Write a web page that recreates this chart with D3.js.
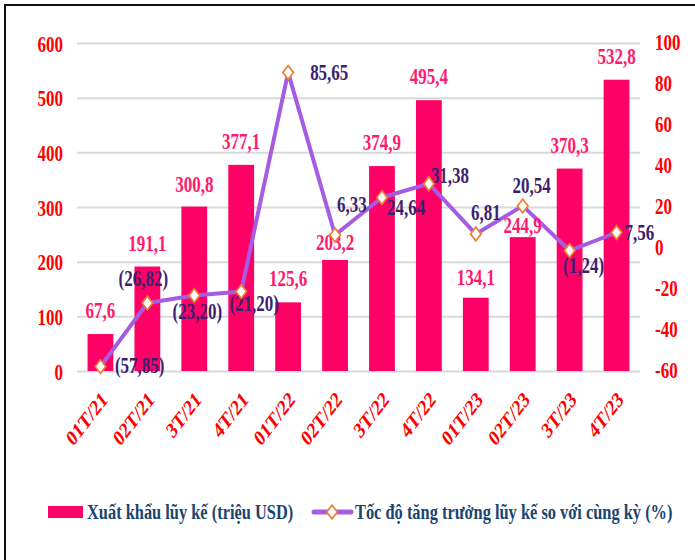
<!DOCTYPE html>
<html>
<head>
<meta charset="utf-8">
<script src="https://cdn.jsdelivr.net/npm/d3@7"></script>
<style>
  html, body { margin: 0; padding: 0; background: #fff; }
  svg { display: block; }
  text { font-family: "Liberation Serif", "Times New Roman", serif; font-weight: bold; }
</style>
</head>
<body>
<svg id="chart" width="695" height="560"></svg>
<script>
// ---- data ----
const categories = ["01T/21","02T/21","3T/21","4T/21","01T/22","02T/22","3T/22","4T/22","01T/23","02T/23","3T/23","4T/23"];
const exportValues = [67.6, 191.1, 300.8, 377.1, 125.6, 203.2, 374.9, 495.4, 134.1, 244.9, 370.3, 532.8];
const growthValues = [-57.85, -26.82, -23.20, -21.20, 85.65, 6.33, 24.64, 31.38, 6.81, 20.54, -1.24, 7.56];
const leftTicks = [0, 100, 200, 300, 400, 500, 600];
const rightTicks = [-60, -40, -20, 0, 20, 40, 60, 80, 100];
const seriesNames = ["Xuất khẩu lũy kế (triệu USD)", "Tốc độ tăng trưởng lũy kế so với cùng kỳ (%)"];

// ---- layout / style (not data) ----
const W = 695, H = 560;
const plot = { left: 77, right: 640, top: 43, bottom: 371 };
const SY = 1.3;            // vertical stretch seen in the reference
const FS = 17;
const barColor = "#FF0066";
const barLabelColor = "#FF1A6E";
const lineColor = "#A55CE0";
const lineLabelColor = "#3D1F6E";
const axisColor = "#FF0000";
const legendColor = "#1B4470";
const barLabelNudge = {2: 14.5, 5: 10, 8: 13, 9: 4}; // baseline distance above bar top (default 16)
const lineLabelPlace = [
  [14.5, 6.5, "start"], [-4, -17, "middle"], [3, 23, "middle"], [13, 19.5, "middle"],
  [22, 7.6, "start"], [2, -23, "start"], [5, 17.5, "start"], [2, -0.7, "start"],
  [10, -14, "middle"], [9, -13, "middle"], [14, 22.5, "middle"], [8, 7.5, "start"]
];

const svg = d3.select("#chart");
svg.append("rect").attr("width", W).attr("height", H).attr("fill", "#fff");

// border (top & left visible)
svg.append("path").attr("d", `M5,${H} L5,5 L${W},5`).attr("fill", "none")
  .attr("stroke", "#111").attr("stroke-width", 2);

const x = d3.scaleBand().domain(categories).range([plot.left, plot.right])
  .paddingInner(0.45).paddingOuter(0.225);
const yL = d3.scaleLinear().domain([0, 600]).range([plot.bottom, plot.top]);
const yR = d3.scaleLinear().domain([-60, 100]).range([plot.bottom, plot.top]);

const fmt1 = v => d3.format(".1f")(v).replace(".", ",");
const fmt2 = v => v < 0 ? "(" + d3.format(".2f")(-v).replace(".", ",") + ")" : d3.format(".2f")(v).replace(".", ",");
const fmtInt = v => String(v);

// gridlines via left axis
const gGrid = svg.append("g").attr("transform", `translate(${plot.left},0)`)
  .call(d3.axisLeft(yL).tickValues(leftTicks).tickSize(-(plot.right - plot.left)).tickFormat(""));
gGrid.select(".domain").remove();
gGrid.selectAll("line").attr("stroke", "#D9D9D9").attr("stroke-width", 2);

// left axis labels
const gL = svg.append("g").attr("transform", `translate(63,0)`)
  .call(d3.axisLeft(yL).tickValues(leftTicks).tickSize(0).tickPadding(0).tickFormat(fmtInt));
gL.select(".domain").remove();
gL.selectAll("text").attr("fill", axisColor).attr("font-size", FS)
  .attr("font-family", '"Liberation Serif", "Times New Roman", serif').attr("font-weight", "bold")
  .attr("dy", "0.37em").attr("transform", `scale(1,${SY})`);

// right axis labels
const gR = svg.append("g").attr("transform", `translate(655,0)`)
  .call(d3.axisRight(yR).tickValues(rightTicks).tickSize(0).tickPadding(0).tickFormat(fmtInt));
gR.select(".domain").remove();
gR.selectAll("text").attr("fill", axisColor).attr("font-size", FS)
  .attr("font-family", '"Liberation Serif", "Times New Roman", serif').attr("font-weight", "bold")
  .attr("dy", "0.3em").attr("transform", `scale(1,${SY})`);

// x axis labels
const gX = svg.append("g").attr("transform", `translate(0,${plot.bottom})`)
  .call(d3.axisBottom(x).tickSize(0).tickPadding(0));
gX.select(".domain").remove();
gX.selectAll("text").attr("fill", axisColor).attr("font-size", FS)
  .attr("font-family", '"Liberation Serif", "Times New Roman", serif').attr("font-weight", "bold")
  .attr("text-anchor", "end").attr("x", 0).attr("y", 0).attr("dy", 0)
  .attr("transform", `translate(8,30) scale(1,${SY}) rotate(-45)`);

// bars
svg.append("g").selectAll("rect").data(exportValues).join("rect")
  .attr("x", (d, i) => x(categories[i]))
  .attr("width", x.bandwidth())
  .attr("y", d => yL(d))
  .attr("height", d => yL(0) - yL(d))
  .attr("fill", barColor);

// line
const cx = i => x(categories[i]) + x.bandwidth() / 2;
svg.append("path").datum(growthValues)
  .attr("d", d3.line().x((d, i) => cx(i)).y(d => yR(d)))
  .attr("fill", "none").attr("stroke", lineColor).attr("stroke-width", 4)
  .attr("stroke-linejoin", "round");

// bar labels
svg.append("g").selectAll("text").data(exportValues).join("text")
  .attr("transform", (d, i) => `translate(${cx(i)},${yL(d) - (barLabelNudge[i] ?? 16)}) scale(1,${SY})`)
  .attr("text-anchor", "middle").attr("font-size", FS).attr("fill", barLabelColor)
  .text(d => fmt1(d));

// line labels
svg.append("g").selectAll("text").data(growthValues).join("text")
  .attr("transform", (d, i) => `translate(${cx(i) + lineLabelPlace[i][0]},${yR(d) + lineLabelPlace[i][1]}) scale(1,${SY})`)
  .attr("text-anchor", (d, i) => lineLabelPlace[i][2])
  .attr("font-size", FS).attr("fill", lineLabelColor)
  .text(d => fmt2(d));

// markers
const diamond = d3.symbol(d3.symbolSquare, 56);
svg.append("g").selectAll("path").data(growthValues).join("path")
  .attr("d", diamond)
  .attr("transform", (d, i) => `translate(${cx(i)},${yR(d)}) scale(1,${SY}) rotate(45)`)
  .attr("fill", "#fff").attr("stroke", "#ED7D31").attr("stroke-width", 1.5);

// legend
const LFS = 16.4;
const lg = svg.append("g");
lg.append("rect").attr("x", 48).attr("y", 506).attr("width", 35).attr("height", 12).attr("fill", barColor);
lg.append("text").attr("transform", `translate(87,519) scale(1,${SY})`)
  .attr("font-size", LFS).attr("fill", legendColor).text(seriesNames[0]);
lg.append("line").attr("x1", 314).attr("x2", 351).attr("y1", 512).attr("y2", 512)
  .attr("stroke", lineColor).attr("stroke-width", 5).attr("stroke-linecap", "round");
lg.append("path").attr("d", diamond)
  .attr("transform", `translate(332,512) scale(1,${SY}) rotate(45)`)
  .attr("fill", "#fff").attr("stroke", "#ED7D31").attr("stroke-width", 1.5);
lg.append("text").attr("transform", `translate(355,519) scale(1,${SY})`)
  .attr("font-size", LFS).attr("fill", legendColor).text(seriesNames[1]);
</script>
</body>
</html>
